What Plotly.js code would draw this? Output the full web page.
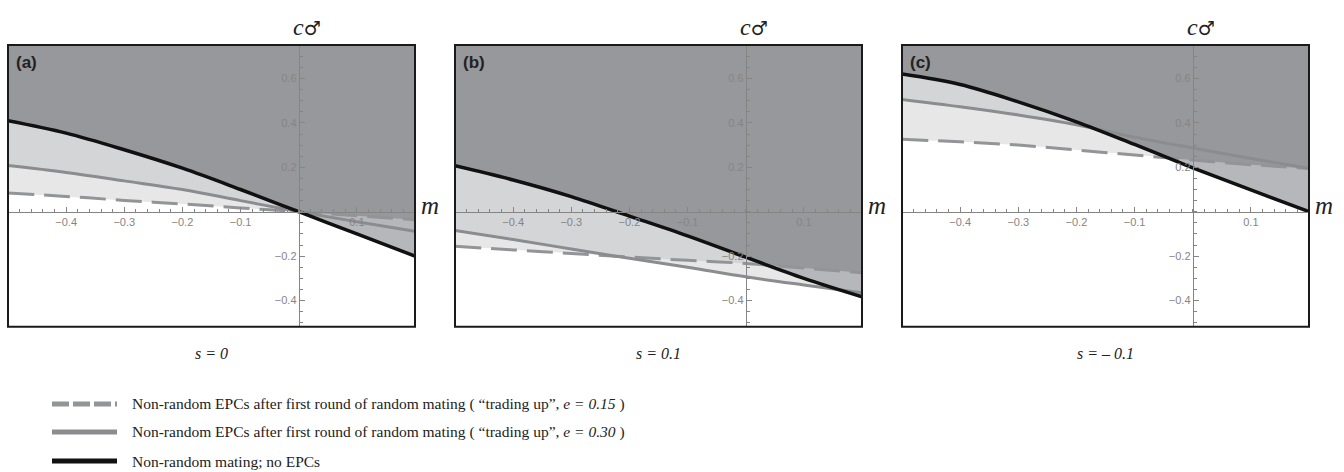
<!DOCTYPE html>
<html>
<head>
<meta charset="utf-8">
<script src="https://cdn.plot.ly/plotly-3.0.1.min.js"></script>
<style>html,body{margin:0;padding:0;background:#fff;}#chart{width:1344px;height:472px;}</style>
</head>
<body>
<div id="chart"></div>
<script>
// ---------- data ----------
const M_VALUES = [-0.5, -0.4, -0.3, -0.2, -0.1, 0, 0.1, 0.2];

// panel (a)  s = 0
const A_BLACK = [0.41, 0.354, 0.279, 0.196, 0.10, 0, -0.10, -0.20];
const A_SOLID = [0.208, 0.177, 0.139, 0.10, 0.05, 0, -0.045, -0.088];
const A_DASH  = [0.084, 0.069, 0.051, 0.035, 0.017, 0, -0.018, -0.036];

// panel (b)  s = 0.1
const B_BLACK = [0.207, 0.143, 0.068, -0.02, -0.109, -0.205, -0.30, -0.383];
const B_SOLID = [-0.085, -0.125, -0.168, -0.21, -0.25, -0.293, -0.33, -0.365];
const B_DASH  = [-0.156, -0.172, -0.188, -0.204, -0.219, -0.233, -0.254, -0.275];

// panel (c)  s = -0.1
const C_BLACK = [0.62, 0.573, 0.495, 0.405, 0.303, 0.198, 0.098, 0.0];
const C_SOLID = [0.506, 0.473, 0.436, 0.392, 0.336, 0.287, 0.24, 0.196];
const C_DASH  = [0.326, 0.315, 0.30, 0.278, 0.255, 0.233, 0.212, 0.195];

const PANEL_LABELS = ['(a)', '(b)', '(c)'];
const S_LABELS = ['s = 0', 's = 0.1', 's = \u2013 0.1'];
const X_TICKS = [-0.4, -0.3, -0.2, -0.1, 0.1];
const Y_TICKS = [-0.4, -0.2, 0.2, 0.4, 0.6];
const LEGEND_TEXT = [
  'Non-random EPCs after first round of random mating ( \u201ctrading up\u201d, <i>e = 0.15</i> )',
  'Non-random EPCs after first round of random mating ( \u201ctrading up\u201d, <i>e = 0.30</i> )',
  'Non-random mating; no EPCs'
];

// ---------- layout helpers ----------
const W = 1344, H = 472;
const X_RANGE = [-0.5, 0.2];
const Y_RANGE = [-0.518, 0.751];
const FILL_TOP = 0.9;
const panelsPx = [[8, 415], [455, 862], [902, 1309]];
const yDomPx = [45, 326.7];
const yDom = [1 - yDomPx[1] / H, 1 - yDomPx[0] / H];

const panels = [
  {black: A_BLACK, solid: A_SOLID, dash: A_DASH},
  {black: B_BLACK, solid: B_SOLID, dash: B_DASH},
  {black: C_BLACK, solid: C_SOLID, dash: C_DASH}
];

// region shades
const COL_LL = '#e7e7e8';   // above exactly one EPC threshold
const COL_L  = '#d4d5d7';   // above both EPC thresholds, below black
const COL_M  = '#b6b7ba';   // above black, below dashed
const COL_D  = '#97989b';   // above black and dashed

const LINE_GRAY = '#8b8c8f';
const AX_GRAY = '#858585';
const SERIF = 'Liberation Serif, Times New Roman, serif';
const SANS = 'Liberation Sans, Arial, sans-serif';

// upper envelope of two sampled curves (crossings located on the sampled segments)
function envelope(xs, a, b) {
  const ox = [], oy = [];
  for (let i = 0; i < xs.length; i++) {
    ox.push(xs[i]); oy.push(Math.max(a[i], b[i]));
    if (i < xs.length - 1) {
      const d0 = a[i] - b[i], d1 = a[i + 1] - b[i + 1];
      if (d0 * d1 < 0) {
        const t = d0 / (d0 - d1);
        ox.push(xs[i] + t * (xs[i + 1] - xs[i]));
        oy.push(a[i] + t * (a[i + 1] - a[i]));
      }
    }
  }
  return {x: ox, y: oy};
}
function regionAbove(xs, ys, color, xa, ya) {
  return {x: xs.concat([xs[xs.length - 1], xs[0]]), y: ys.concat([FILL_TOP, FILL_TOP]),
    xaxis: xa, yaxis: ya, mode: 'lines', line: {width: 0, color: 'rgba(0,0,0,0)'},
    fill: 'toself', fillcolor: color, hoverinfo: 'skip'};
}

const traces = [];
const layout = {
  width: W, height: H,
  margin: {l: 0, r: 0, t: 0, b: 0},
  paper_bgcolor: '#fff', plot_bgcolor: 'rgba(0,0,0,0)',
  showlegend: false,
  shapes: [], annotations: []
};

panels.forEach((p, i) => {
  const sfx = i === 0 ? '' : String(i + 1);
  const xa = 'x' + sfx, ya = 'y' + sfx;
  const xDom = [panelsPx[i][0] / W, panelsPx[i][1] / W];

  // shaded regions, painted in order
  traces.push(regionAbove(M_VALUES, p.dash, COL_LL, xa, ya));
  traces.push(regionAbove(M_VALUES, p.solid, COL_LL, xa, ya));
  const envDS = envelope(M_VALUES, p.dash, p.solid);
  traces.push(regionAbove(envDS.x, envDS.y, COL_L, xa, ya));
  traces.push(regionAbove(M_VALUES, p.black, COL_M, xa, ya));
  const envBD = envelope(M_VALUES, p.black, p.dash);
  traces.push(regionAbove(envBD.x, envBD.y, COL_D, xa, ya));

  // boundary lines
  traces.push({x: M_VALUES, y: p.dash, xaxis: xa, yaxis: ya, mode: 'lines',
    line: {color: '#939497', width: 3, dash: '26px,10px', shape: 'spline'}, hoverinfo: 'skip'});
  traces.push({x: M_VALUES, y: p.solid, xaxis: xa, yaxis: ya, mode: 'lines',
    line: {color: LINE_GRAY, width: 3, shape: 'spline'}, hoverinfo: 'skip'});
  traces.push({x: M_VALUES, y: p.black, xaxis: xa, yaxis: ya, mode: 'lines',
    line: {color: '#111', width: 3.5, shape: 'spline'}, hoverinfo: 'skip'});

  const xAxisPos = yDom[0] + (0 - Y_RANGE[0]) / (Y_RANGE[1] - Y_RANGE[0]) * (yDom[1] - yDom[0]);
  const yAxisPos = xDom[0] + (0 - X_RANGE[0]) / (X_RANGE[1] - X_RANGE[0]) * (xDom[1] - xDom[0]);

  layout['xaxis' + sfx] = {
    domain: xDom, range: X_RANGE, anchor: 'free', position: xAxisPos,
    showgrid: false, zeroline: false, showline: true, linecolor: AX_GRAY, linewidth: 1,
    ticks: 'inside', ticklen: 5, tickwidth: 1, tickcolor: AX_GRAY,
    tickmode: 'array', tickvals: X_TICKS,
    tickfont: {family: SANS, size: 11, color: '#858585'},
    minor: {tick0: 0, dtick: 0.02, ticks: 'inside', ticklen: 3, tickcolor: AX_GRAY, tickwidth: 1},
    fixedrange: true
  };
  layout['yaxis' + sfx] = {
    domain: yDom, range: Y_RANGE, anchor: 'free', position: yAxisPos,
    showgrid: false, zeroline: false, showline: true, linecolor: AX_GRAY, linewidth: 1,
    ticks: 'inside', ticklen: 5, tickwidth: 1, tickcolor: AX_GRAY,
    tickmode: 'array', tickvals: Y_TICKS,
    tickfont: {family: SANS, size: 11, color: '#858585'},
    minor: {tick0: 0, dtick: 0.05, ticks: 'inside', ticklen: 3, tickcolor: AX_GRAY, tickwidth: 1},
    fixedrange: true
  };

  // frame
  layout.shapes.push({type: 'rect', xref: xa + ' domain', yref: ya + ' domain',
    x0: 0, x1: 1, y0: 0, y1: 1, line: {color: '#1a1a1a', width: 2}, layer: 'above'});

  // axis titles
  layout.annotations.push({xref: xa, yref: 'paper', x: 0, y: 1 - 27 / H, xshift: 8,
    text: '<i>c</i><span style="font-family:DejaVu Sans;font-size:19px">\u2642</span>',
    showarrow: false, xanchor: 'center', yanchor: 'middle',
    font: {family: SERIF, size: 24, color: '#222'}});
  layout.annotations.push({xref: 'paper', yref: ya, x: panelsPx[i][1] / W, y: 0, xshift: 15, yshift: 6,
    text: '<i>m</i>', showarrow: false, xanchor: 'center', yanchor: 'middle',
    font: {family: SERIF, size: 25, color: '#222'}});
  // panel label
  layout.annotations.push({xref: 'paper', yref: 'paper', x: (panelsPx[i][0] + 6) / W, y: 1 - 63 / H,
    text: '<b>' + PANEL_LABELS[i] + '</b>', showarrow: false, xanchor: 'left', yanchor: 'middle',
    font: {family: SANS, size: 17, color: '#222'}});
  // s label
  layout.annotations.push({xref: 'paper', yref: 'paper',
    x: (panelsPx[i][0] + panelsPx[i][1]) / 2 / W, y: 1 - 353 / H,
    text: '<i>' + S_LABELS[i] + '</i>', showarrow: false, xanchor: 'center', yanchor: 'middle',
    font: {family: SERIF, size: 16, color: '#222'}});
});

// legend
const legY = [404, 432, 461];
const legStyles = [
  {color: '#939497', width: 5, dash: '17px,4px'},
  {color: LINE_GRAY, width: 5, dash: 'solid'},
  {color: '#111', width: 5, dash: 'solid'}
];
legY.forEach((yy, i) => {
  layout.shapes.push({type: 'line', xref: 'paper', yref: 'paper',
    x0: 52 / W, x1: 117 / W, y0: 1 - yy / H, y1: 1 - yy / H, line: legStyles[i]});
  layout.annotations.push({xref: 'paper', yref: 'paper', x: 130 / W, y: 1 - yy / H,
    text: LEGEND_TEXT[i], showarrow: false, xanchor: 'left', yanchor: 'middle',
    font: {family: SERIF, size: 15.5, color: '#222'}});
});

Plotly.newPlot('chart', traces, layout, {staticPlot: true, displayModeBar: false});
</script>
</body>
</html>
